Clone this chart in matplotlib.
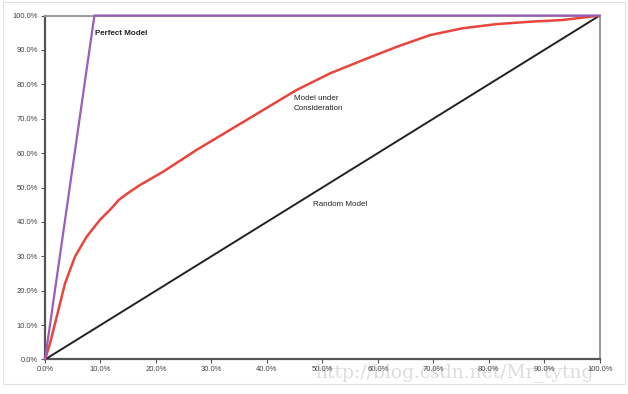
import numpy as np
import matplotlib.pyplot as plt
from matplotlib.ticker import PercentFormatter
from matplotlib.patches import Rectangle

plt.rcParams['font.family'] = ['Liberation Sans', 'DejaVu Sans']

# model under consideration (% of population vs % captured)
model_x = [0, 0.9, 2.1, 3.6, 5.4, 7.5, 9.9, 12.0, 13.3, 14.7, 17.1, 21.3, 27.3, 33.3,
           39.3, 45.3, 51.4, 57.4, 63.4, 69.4, 75.3, 81.4, 87.4, 93.3, 100]
model_y = [0, 4.7, 12.4, 22.1, 29.9, 35.7, 40.6, 44.0, 46.4, 48.1, 50.7, 54.6, 60.9, 66.7,
           72.5, 78.3, 83.2, 87.1, 90.9, 94.3, 96.3, 97.5, 98.2, 98.7, 100]
perfect_x = [0, 8.9, 100]
perfect_y = [0, 100, 100]
random_x = [0, 100]
random_y = [0, 100]
ticks = np.arange(0, 101, 10)

fig = plt.figure(figsize=(6.28, 3.94), dpi=100)
ax = fig.add_axes([0.0717, 0.0876, 0.8833, 0.873])
ax.set_zorder(2)

ax.plot(random_x, random_y, color="#222222", lw=1.4, zorder=3)
ax.plot(model_x, model_y, color="#e8453c", lw=1.8, zorder=4, solid_joinstyle="round")
ax.plot(perfect_x, perfect_y, color="#9a5db8", lw=1.6, zorder=5, clip_on=False)

ax.set_xlim(0, 100)
ax.set_ylim(0, 100)
ax.set_xticks(ticks)
ax.set_yticks(ticks)
ax.xaxis.set_major_formatter(PercentFormatter(decimals=1))
ax.yaxis.set_major_formatter(PercentFormatter(decimals=1))
ax.tick_params(labelsize=5.5, labelcolor="#444444", color="#555555",
               length=3, width=0.8, direction="out", pad=2)

for s in ["left", "bottom"]:
    ax.spines[s].set_color("#555555")
    ax.spines[s].set_linewidth(1.6)
for s in ["right", "top"]:
    ax.spines[s].set_color("#999999")
    ax.spines[s].set_linewidth(1.4)

ax.text(9.0, 94.7, "Perfect Model", fontsize=5.8, color="#222222", va="center",
        fontweight="bold")
ax.text(44.8, 76.8, "Model under\nConsideration", fontsize=5.8, color="#222222",
        va="top", linespacing=1.5)
ax.text(48.3, 45.0, "Random Model", fontsize=5.8, color="#222222", va="center")

# watermark at the bottom right, behind the tick labels
fig.text(0.502, 0.055, "http://blog.csdn.net/Mr_tytng", fontsize=13.5,
         family="DejaVu Serif", color="#dddddd", va="center", zorder=1)

fig.patches.append(Rectangle((0.004, 0.025), 0.992, 0.97, transform=fig.transFigure,
                             fill=False, ec="#e2e2e2", lw=0.8))

fig.savefig("out.png", dpi=100)
